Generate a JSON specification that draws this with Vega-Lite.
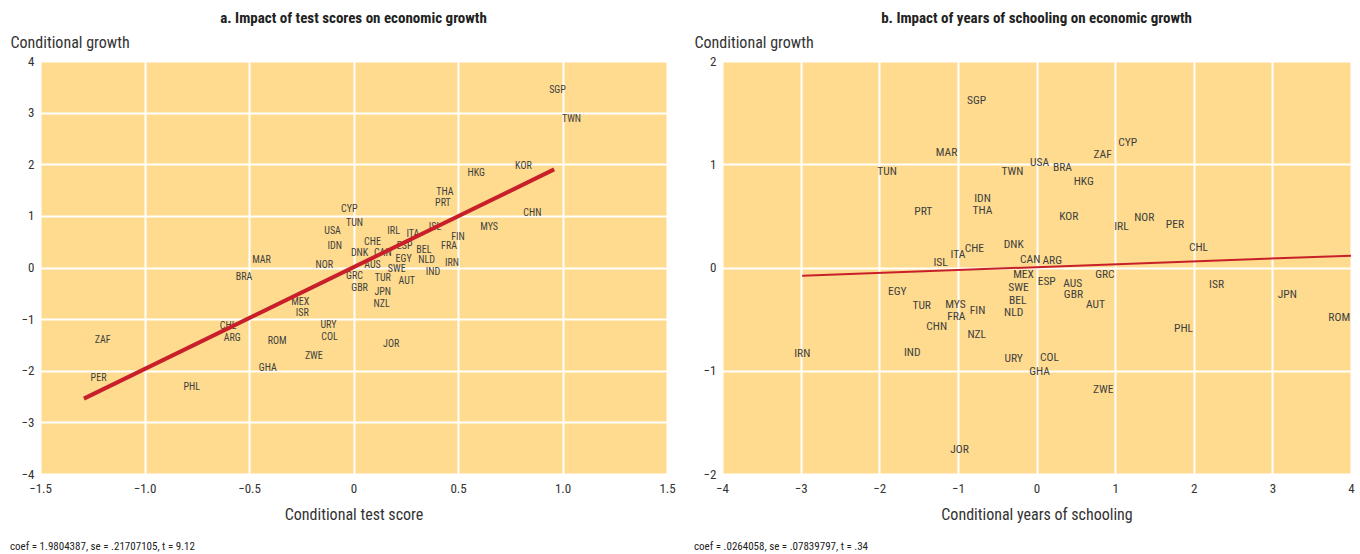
{
  "$schema": "https://vega.github.io/schema/vega-lite/v6.json",
  "background": "white",
  "padding": {"left": 10, "top": 11, "right": 4, "bottom": 0},
  "datasets": {
    "a": [
      {"code": "SGP", "x": 0.976, "y": 3.43},
      {"code": "TWN", "x": 1.043, "y": 2.87},
      {"code": "KOR", "x": 0.813, "y": 1.96},
      {"code": "HKG", "x": 0.587, "y": 1.84},
      {"code": "THA", "x": 0.4375, "y": 1.47},
      {"code": "PRT", "x": 0.428, "y": 1.24},
      {"code": "CHN", "x": 0.856, "y": 1.05},
      {"code": "MYS", "x": 0.649, "y": 0.79},
      {"code": "CYP", "x": -0.02, "y": 1.14},
      {"code": "TUN", "x": 0.005, "y": 0.87},
      {"code": "USA", "x": -0.1, "y": 0.7},
      {"code": "IDN", "x": -0.09, "y": 0.41},
      {"code": "CHE", "x": 0.091, "y": 0.5},
      {"code": "DNK", "x": 0.029, "y": 0.29},
      {"code": "CAN", "x": 0.14, "y": 0.29},
      {"code": "IRL", "x": 0.192, "y": 0.7},
      {"code": "ITA", "x": 0.284, "y": 0.64},
      {"code": "ISL", "x": 0.39, "y": 0.78},
      {"code": "FIN", "x": 0.5, "y": 0.6},
      {"code": "ESP", "x": 0.245, "y": 0.41},
      {"code": "BEL", "x": 0.337, "y": 0.33},
      {"code": "FRA", "x": 0.457, "y": 0.41},
      {"code": "NLD", "x": 0.35, "y": 0.14},
      {"code": "EGY", "x": 0.24, "y": 0.17},
      {"code": "AUS", "x": 0.091, "y": 0.04},
      {"code": "SWE", "x": 0.207, "y": -0.02},
      {"code": "IRN", "x": 0.471, "y": 0.08},
      {"code": "IND", "x": 0.38, "y": -0.08},
      {"code": "NOR", "x": -0.14, "y": 0.04},
      {"code": "MAR", "x": -0.44, "y": 0.14},
      {"code": "BRA", "x": -0.524, "y": -0.19},
      {"code": "GRC", "x": 0.005, "y": -0.17},
      {"code": "TUR", "x": 0.14, "y": -0.21},
      {"code": "AUT", "x": 0.255, "y": -0.27},
      {"code": "GBR", "x": 0.029, "y": -0.39},
      {"code": "JPN", "x": 0.14, "y": -0.47},
      {"code": "NZL", "x": 0.135, "y": -0.7},
      {"code": "MEX", "x": -0.255, "y": -0.66},
      {"code": "ISR", "x": -0.245, "y": -0.89},
      {"code": "URY", "x": -0.12, "y": -1.12},
      {"code": "COL", "x": -0.115, "y": -1.34},
      {"code": "JOR", "x": 0.18, "y": -1.49},
      {"code": "CHL", "x": -0.6, "y": -1.14},
      {"code": "ARG", "x": -0.58, "y": -1.36},
      {"code": "ROM", "x": -0.365, "y": -1.43},
      {"code": "ZWE", "x": -0.19, "y": -1.71},
      {"code": "GHA", "x": -0.41, "y": -1.94},
      {"code": "ZAF", "x": -1.2, "y": -1.4},
      {"code": "PER", "x": -1.22, "y": -2.15},
      {"code": "PHL", "x": -0.774, "y": -2.31}
    ],
    "aline": [
      {"x": -1.29, "y": -2.54},
      {"x": 0.96, "y": 1.9}
    ],
    "b": [
      {"code": "SGP", "x": -0.763, "y": 1.61},
      {"code": "MAR", "x": -1.145, "y": 1.11},
      {"code": "TUN", "x": -1.9, "y": 0.925},
      {"code": "TWN", "x": -0.305, "y": 0.925},
      {"code": "IDN", "x": -0.687, "y": 0.66},
      {"code": "THA", "x": -0.687, "y": 0.545},
      {"code": "PRT", "x": -1.44, "y": 0.535},
      {"code": "DNK", "x": -0.29, "y": 0.215},
      {"code": "CHE", "x": -0.79, "y": 0.175},
      {"code": "ITA", "x": -1.0, "y": 0.125},
      {"code": "ISL", "x": -1.22, "y": 0.04},
      {"code": "USA", "x": 0.04, "y": 1.01},
      {"code": "BRA", "x": 0.33, "y": 0.96},
      {"code": "ZAF", "x": 0.84, "y": 1.09},
      {"code": "CYP", "x": 1.16, "y": 1.21},
      {"code": "HKG", "x": 0.6, "y": 0.83},
      {"code": "KOR", "x": 0.41, "y": 0.49},
      {"code": "IRL", "x": 1.08, "y": 0.39},
      {"code": "NOR", "x": 1.37, "y": 0.48},
      {"code": "PER", "x": 1.76, "y": 0.41},
      {"code": "CHL", "x": 2.06, "y": 0.185},
      {"code": "CAN", "x": -0.08, "y": 0.07},
      {"code": "ARG", "x": 0.2, "y": 0.06},
      {"code": "MEX", "x": -0.165, "y": -0.07},
      {"code": "ESP", "x": 0.13, "y": -0.14},
      {"code": "AUS", "x": 0.46, "y": -0.155},
      {"code": "GRC", "x": 0.87, "y": -0.07},
      {"code": "SWE", "x": -0.23, "y": -0.2},
      {"code": "BEL", "x": -0.24, "y": -0.32},
      {"code": "NLD", "x": -0.29, "y": -0.44},
      {"code": "GBR", "x": 0.47, "y": -0.27},
      {"code": "AUT", "x": 0.75, "y": -0.36},
      {"code": "ISR", "x": 2.29, "y": -0.17},
      {"code": "JPN", "x": 3.19, "y": -0.27},
      {"code": "ROM", "x": 3.85, "y": -0.49},
      {"code": "PHL", "x": 1.87, "y": -0.6},
      {"code": "COL", "x": 0.165, "y": -0.875},
      {"code": "GHA", "x": 0.04, "y": -1.01},
      {"code": "ZWE", "x": 0.85, "y": -1.19},
      {"code": "URY", "x": -0.29, "y": -0.89},
      {"code": "EGY", "x": -1.77, "y": -0.235},
      {"code": "TUR", "x": -1.46, "y": -0.37},
      {"code": "MYS", "x": -1.03, "y": -0.36},
      {"code": "FRA", "x": -1.02, "y": -0.48},
      {"code": "FIN", "x": -0.75, "y": -0.42},
      {"code": "CHN", "x": -1.27, "y": -0.58},
      {"code": "NZL", "x": -0.76, "y": -0.65},
      {"code": "IND", "x": -1.58, "y": -0.83},
      {"code": "IRN", "x": -2.98, "y": -0.84},
      {"code": "JOR", "x": -0.98, "y": -1.77}
    ],
    "bline": [
      {"x": -2.98, "y": -0.08},
      {"x": 4.0, "y": 0.115}
    ]
  },
  "config": {
    "font": "Liberation Sans Narrow, Roboto Condensed, Roboto, sans-serif",
    "view": {"fill": "#FEDB8E", "stroke": null},
    "concat": {"spacing": 18},
    "axis": {
      "grid": true,
      "gridColor": "white",
      "gridWidth": 2,
      "gridOpacity": 1,
      "domain": false,
      "ticks": false,
      "labelFlush": false,
      "labelFontSize": 13,
      "labelColor": "#333333",
      "titleFontSize": 16,
      "titleFontWeight": "normal",
      "titleColor": "#333333"
    },
    "title": {"color": "#222222"}
  },
  "hconcat": [
    {
      "title": {"text": "coef = 1.9804387, se = .21707105, t = 9.12", "orient": "bottom", "anchor": "start", "frame": "bounds", "fontSize": 11, "fontWeight": "normal", "offset": 19},
      "vconcat": [
        {
          "width": 627,
          "height": 413,
          "title": {"text": "a. Impact of test scores on economic growth", "fontSize": 15, "fontWeight": "bold", "anchor": "middle", "offset": 8},
          "layer": [
            {
              "data": {"name": "a"},
              "mark": {"type": "text", "fontSize": 10, "color": "#3f3f3f", "align": "center", "baseline": "middle"},
              "encoding": {
                "x": {"field": "x", "type": "quantitative", "scale": {"domain": [-1.5, 1.5], "nice": false, "zero": false},
                  "axis": {"values": [-1.5, -1, -0.5, 0, 0.5, 1, 1.5], "labelExpr": "datum.value == 0 ? '0' : format(datum.value, '.1f')", "labelPadding": 8, "title": "Conditional test score", "titlePadding": 11}},
                "y": {"field": "y", "type": "quantitative", "scale": {"domain": [-4, 4], "nice": false},
                  "axis": {"values": [-4, -3, -2, -1, 0, 1, 2, 3, 4], "format": "d", "labelPadding": 6, "title": "Conditional growth", "titleAngle": 0, "titleAlign": "left", "titleBaseline": "alphabetic", "titleX": -30, "titleY": -14}},
                "text": {"field": "code"}
              }
            },
            {
              "data": {"name": "aline"},
              "mark": {"type": "line", "color": "#C8202A", "strokeWidth": 4},
              "encoding": {
                "x": {"field": "x", "type": "quantitative"},
                "y": {"field": "y", "type": "quantitative"}
              }
            }
          ]
        }
      ]
    },
    {
      "title": {"text": "coef = .0264058, se = .07839797, t = .34", "orient": "bottom", "anchor": "start", "frame": "bounds", "fontSize": 11, "fontWeight": "normal", "offset": 19},
      "vconcat": [
        {
          "width": 629,
          "height": 413,
          "title": {"text": "b. Impact of years of schooling on economic growth", "fontSize": 15, "fontWeight": "bold", "anchor": "middle", "offset": 8},
          "layer": [
            {
              "data": {"name": "b"},
              "mark": {"type": "text", "fontSize": 11.5, "color": "#3f3f3f", "align": "center", "baseline": "middle"},
              "encoding": {
                "x": {"field": "x", "type": "quantitative", "scale": {"domain": [-4, 4], "nice": false, "zero": false},
                  "axis": {"values": [-4, -3, -2, -1, 0, 1, 2, 3, 4], "format": "d", "labelPadding": 8, "title": "Conditional years of schooling", "titlePadding": 11}},
                "y": {"field": "y", "type": "quantitative", "scale": {"domain": [-2, 2], "nice": false},
                  "axis": {"values": [-2, -1, 0, 1, 2], "format": "d", "labelPadding": 6, "title": "Conditional growth", "titleAngle": 0, "titleAlign": "left", "titleBaseline": "alphabetic", "titleX": -28, "titleY": -14}},
                "text": {"field": "code"}
              }
            },
            {
              "data": {"name": "bline"},
              "mark": {"type": "line", "color": "#C8202A", "strokeWidth": 2},
              "encoding": {
                "x": {"field": "x", "type": "quantitative"},
                "y": {"field": "y", "type": "quantitative"}
              }
            }
          ]
        }
      ]
    }
  ]
}
